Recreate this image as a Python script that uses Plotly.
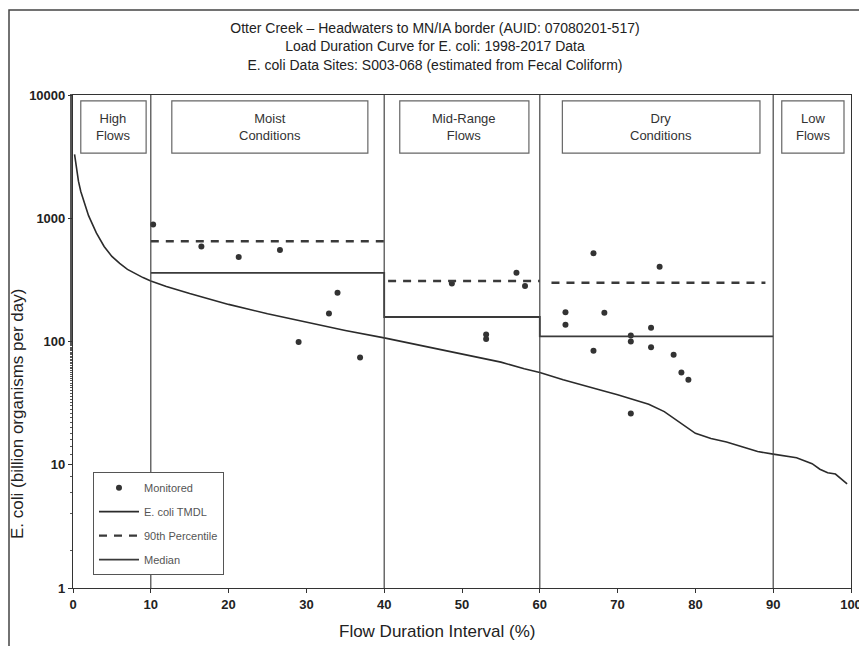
import plotly.graph_objects as go

# ---- data ----
curve_pct = [0.2, 0.4, 0.7, 1, 1.5, 2, 3, 4, 5, 6, 7, 8, 9, 10, 12, 15, 20, 25, 30, 35, 40,
             45, 50, 55, 58, 60, 63, 65, 68, 70, 72, 74, 76, 78, 80, 82, 84, 86, 88, 90,
             92, 93, 94, 95, 96, 97, 98, 99, 99.5]
curve_load = [3300, 2600, 2000, 1650, 1300, 1050, 760, 590, 490, 430, 385, 355, 330, 310, 280,
              245, 200, 168, 143, 123, 107, 92, 80, 68, 60, 56, 49, 45, 40, 37, 34, 31, 27,
              22, 18, 16.3, 15.3, 14, 12.8, 12.2, 11.7, 11.4, 10.8, 10.2, 9.2, 8.6, 8.4, 7.5, 7]

mon_pct = [10.3, 16.5, 21.3, 26.6, 29.0, 32.9, 34.0, 36.9,
           48.7, 53.1, 53.1, 57.0, 58.1,
           63.3, 63.3, 66.9, 66.9, 68.3, 71.7, 71.7, 71.7, 74.3, 74.3, 75.4, 77.2, 78.2, 79.1]
mon_load = [890, 590, 484, 552, 99, 169, 249, 74,
            295, 114, 105, 362, 282,
            173, 137, 519, 84, 171, 112, 100, 26, 129, 90, 405, 78, 56, 49]

median_pct = [10, 40, 40, 60, 60, 90]
median_load = [360, 360, 158, 158, 110, 110]

p90_pct = [10, 40, None, 40.5, 60, None, 61.5, 89]
p90_load = [650, 650, None, 310, 310, None, 300, 300]

zone_bounds = [10, 40, 60, 90]
zone_labels = ["High<br>Flows", "Moist<br>Conditions", "Mid-Range<br>Flows",
               "Dry<br>Conditions", "Low<br>Flows"]
zone_box_x0 = [1.0, 12.7, 42.0, 62.9, 91.1]
zone_box_x1 = [9.4, 37.9, 58.6, 88.3, 99.1]

x_ticks = [0, 10, 20, 30, 40, 50, 60, 70, 80, 90, 100]
y_ticks = [1, 10, 100, 1000, 10000]

DARK = "#2b2b2b"
FONT = "Liberation Sans, Arial, sans-serif"

fig = go.Figure()

fig.add_trace(go.Scatter(x=mon_pct, y=mon_load, mode="markers", name="Monitored",
                         legendgroup="a",
                         marker=dict(color="#333333", size=6, symbol="circle")))
fig.add_trace(go.Scatter(x=curve_pct, y=curve_load, mode="lines", name="E. coli TMDL",
                         legendgroup="b",
                         line=dict(color=DARK, width=1.6)))
fig.add_trace(go.Scatter(x=p90_pct, y=p90_load, mode="lines", name="90th Percentile",
                         legendgroup="c",
                         line=dict(color="#3a3a3a", width=2.4, dash="8px,7px"),
                         connectgaps=False))
fig.add_trace(go.Scatter(x=median_pct, y=median_load, mode="lines", name="Median",
                         legendgroup="d",
                         line=dict(color="#3a3a3a", width=1.8)))

shapes = []
for b in zone_bounds:
    shapes.append(dict(type="line", xref="x", yref="paper", x0=b, x1=b, y0=0, y1=1,
                       line=dict(color="#444444", width=1.2)))
for x0, x1, lab in zip(zone_box_x0, zone_box_x1, zone_labels):
    shapes.append(dict(type="rect", xref="x", yref="paper", x0=x0, x1=x1, y0=0.882, y1=0.988,
                       line=dict(color="#666666", width=1.2), fillcolor="white", layer="above"))
    fig.add_annotation(x=(x0 + x1) / 2, y=0.935, xref="x", yref="paper", text=lab,
                       showarrow=False, yanchor="middle", valign="middle",
                       font=dict(family=FONT, size=13, color="#333333"),
                       align="center")

# axis titles as annotations (placed as in reference)
fig.add_annotation(x=-0.0707, y=0.353, xref="paper", yref="paper",
                   text="E. coli (billion organisms per day)", textangle=-90,
                   showarrow=False, xanchor="center", yanchor="middle",
                   font=dict(family=FONT, size=17, color="#222222"))
fig.add_annotation(x=0.469, y=-0.089, xref="paper", yref="paper",
                   text="Flow Duration Interval (%)",
                   showarrow=False, xanchor="center", yanchor="middle",
                   font=dict(family=FONT, size=17, color="#222222"))

# outer frame (plot area in figure px: l=65, w=778, t=87, h=493)
shapes.append(dict(type="rect", xref="paper", yref="paper",
                   x0=(1 - 65) / 778, x1=(858 - 65) / 778,
                   y0=(580 - 700) / 493, y1=(580 - 2) / 493,
                   line=dict(color="#444444", width=1.5), fillcolor="rgba(0,0,0,0)"))
fig.update_layout(shapes=shapes)

fig.update_layout(
    width=867, height=646,
    paper_bgcolor="white", plot_bgcolor="white",
    margin=dict(l=65, r=24, t=87, b=66, autoexpand=False),
    font=dict(family=FONT, color="#222222"),
    title=dict(text="Otter Creek \u2013 Headwaters to MN/IA border (AUID: 07080201-517)<br>"
                    "Load Duration Curve for E. coli: 1998-2017 Data<br>"
                    "E. coli Data Sites: S003-068 (estimated from Fecal Coliform)",
               x=0.4925, xref="container", xanchor="center",
               y=0.961, yref="container", yanchor="top",
               font=dict(family=FONT, size=14, color="#222222")),
    showlegend=True,
    legend=dict(x=0.0257, y=0.235, xanchor="left", yanchor="top",
                bordercolor="#555555", borderwidth=1, bgcolor="white",
                font=dict(family=FONT, size=11, color="#555555"),
                tracegroupgap=5, itemwidth=40),
    xaxis=dict(range=[0, 100], tickvals=x_ticks, ticktext=[str(t) for t in x_ticks],
               showgrid=False, zeroline=False, showline=True, linecolor="#333333",
               linewidth=1.2, mirror=True, ticks="outside", ticklen=4, tickcolor="#333333",
               tickfont=dict(family=FONT, size=13, color="#222222", weight="bold")),
    yaxis=dict(type="log", range=[0, 4], tickvals=y_ticks, ticktext=[str(t) for t in y_ticks],
               showgrid=False, zeroline=False, showline=True, linecolor="#333333",
               linewidth=1.2, mirror=True, ticks="outside", ticklen=4, tickcolor="#333333",
               minor=dict(ticks="outside", ticklen=2, tickcolor="#555555", showgrid=False),
               tickfont=dict(family=FONT, size=13, color="#222222", weight="bold")),
)

fig.write_html("out.html")
